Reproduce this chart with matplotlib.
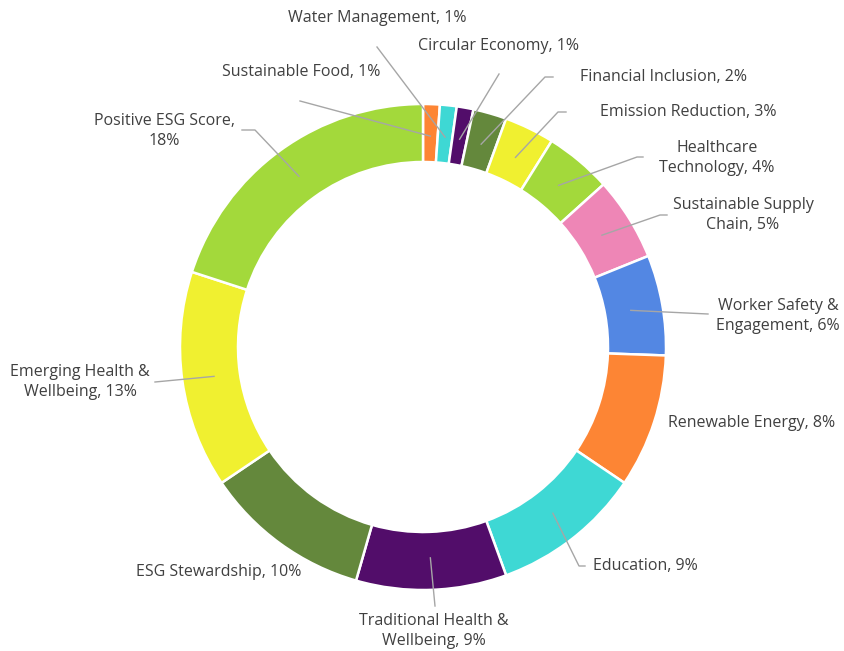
import numpy as np
import matplotlib
import matplotlib.pyplot as plt

matplotlib.use('Agg')

# slices, clockwise from 12 o'clock
categories = ['Sustainable Food', 'Water Management', 'Circular Economy',
              'Financial Inclusion', 'Emission Reduction', 'Healthcare\nTechnology',
              'Sustainable Supply\nChain', 'Worker Safety &\nEngagement',
              'Renewable Energy', 'Education', 'Traditional Health &\nWellbeing',
              'ESG Stewardship', 'Emerging Health &\nWellbeing', 'Positive ESG Score,\n']
shares = [1, 1, 1, 2, 3, 4, 5, 6, 8, 9, 9, 10, 13, 18]
colors = ['#FD8534', '#3ED8D4', '#520D6A', '#64883C', '#F0F030', '#A3D93B',
          '#EE86B6', '#5387E3', '#FD8534', '#3ED8D4', '#520D6A', '#64883C',
          '#F0F030', '#A3D93B']

# label placement in pixel coords (x, y), leader start point, elbow length
label_pos = [(301, 72), (377, 18), (499, 46), (663, 77), (688, 112), (717, 158),
             (743, 215), (778, 316), (752, 423), (645, 566), (434, 631),
             (219, 572), (80, 382), (164, 131)]
leader_start = [(300, 101), (377, 47), (499, 74), (553, 77), (566, 112), (643, 157),
                (667, 215), (708, 314), None, (585, 566), (435, 606),
                None, (155, 382), (242, 130)]
elbow = [0, 0, 0, -8, -8, -6, -7, 0, 0, -6, 0, 0, 0, 13]

cx, cy, R, ring = 423, 347, 243, 58

fig = plt.figure(figsize=(8.44, 6.51), dpi=100)
ax = fig.add_axes([0, 0, 1, 1])

# y axis inverted -> counterclock=True in data appears clockwise on screen
wedges, _ = ax.pie(shares, colors=colors, startangle=-90, counterclock=True,
                   center=(cx, cy), radius=R, frame=True,
                   wedgeprops=dict(width=ring, edgecolor='white', linewidth=1.8))
ax.set_xlim(0, 844)
ax.set_ylim(651, 0)
ax.set_aspect('equal')
ax.axis('off')

for i, (name, val) in enumerate(zip(categories, shares)):
    if name.endswith('\n'):
        text = f'{name}{val}%'
    else:
        text = f'{name}, {val}%'
    lx, ly = label_pos[i]
    ax.text(lx, ly, text, ha='center', va='center', fontsize=11.5,
            family='Open Sans', color='#404040', linespacing=1.3)
    if leader_start[i] is not None:
        w = wedges[i]
        mid = np.deg2rad((w.theta1 + w.theta2) / 2)
        ex = cx + (R - 32) * np.cos(mid)
        ey = cy + (R - 32) * np.sin(mid)
        sx, sy = leader_start[i]
        ax.plot([sx, sx + elbow[i], ex], [sy, sy, ey], color='#A6A6A6', linewidth=1)

plt.savefig('out.png', dpi=100)
